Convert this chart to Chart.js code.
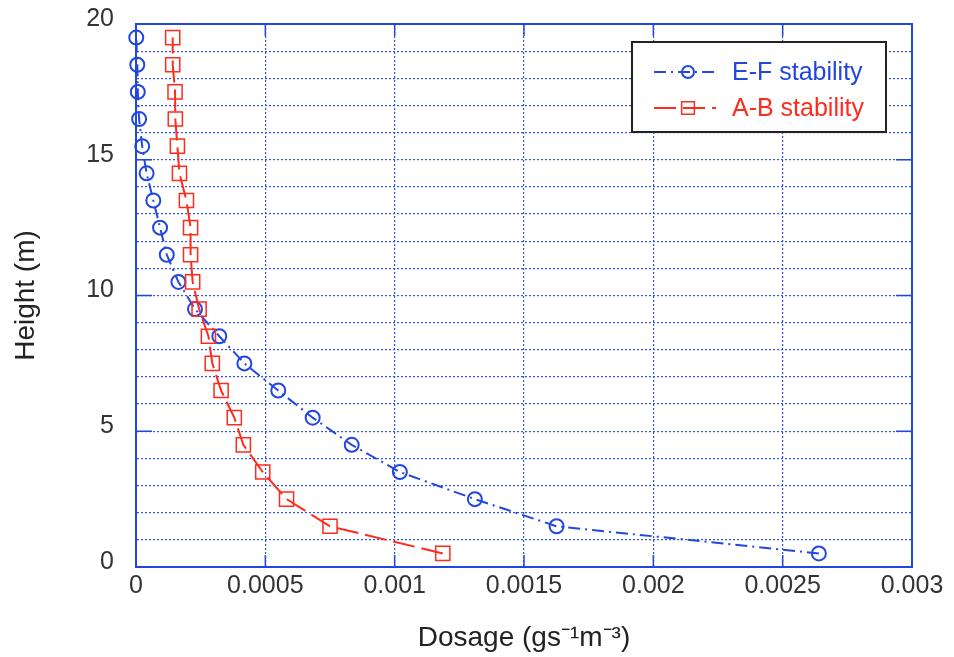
<!DOCTYPE html>
<html>
<head>
<meta charset="utf-8">
<script src="https://cdn.jsdelivr.net/npm/chart.js@4.4.1/dist/chart.umd.min.js"></script>
<style>
    html, body { margin: 0; padding: 0; background: #fff; }
    #wrap { width: 954px; height: 657px; }
</style>
</head>
<body>
<div id="wrap"><canvas id="dosageChart" width="954" height="657"></canvas></div>
<script>
// heights (m), from bottom to top
const heights = [0.5, 1.5, 2.5, 3.5, 4.5, 5.5, 6.5, 7.5, 8.5, 9.5,
                 10.5, 11.5, 12.5, 13.5, 14.5, 15.5, 16.5, 17.5, 18.5, 19.5];

// dosage (g s^-1 m^-3)
const efDosage = [0.00264, 0.001626, 0.00131, 0.00102, 0.000834, 0.000683, 0.00055, 0.000419, 0.000322, 0.000228,
                  0.000164, 0.000119, 0.000093, 0.000067, 0.000041, 0.000024, 0.000012, 0.000007, 0.000005, 0.000001];
const abDosage = [0.001186, 0.00075, 0.000582, 0.00049, 0.000415, 0.00038, 0.000329, 0.000295, 0.00028, 0.000244,
                  0.000219, 0.000211, 0.000211, 0.000195, 0.000168, 0.00016, 0.000152, 0.000151, 0.000142, 0.000142];

const seriesNames = ['E-F stability', 'A-B stability'];

const xTicks = [0, 0.0005, 0.001, 0.0015, 0.002, 0.0025, 0.003];
const xTickLabels = ['0', '0.0005', '0.001', '0.0015', '0.002', '0.0025', '0.003'];
const yTickLabels = ['0', '5', '10', '15', '20'];

const blue = '#2247e0';
const red = '#ff2b1c';
const gridBlue = '#2f52e0';
const textGray = '#333';
const fontFamily = "'Liberation Sans', Arial, sans-serif";

function toPoints(xs) {
    return xs.map((x, i) => ({ x: x, y: heights[i] }));
}

// blue box around the plot, with short inward ticks at the labelled values
const framePlugin = {
    id: 'frame',
    beforeDatasetsDraw(chart) {
        const { ctx, chartArea: a, scales } = chart;
        ctx.save();
        ctx.strokeStyle = blue;
        ctx.lineWidth = 2;
        ctx.setLineDash([]);
        ctx.strokeRect(a.left, a.top, a.right - a.left, a.bottom - a.top);
        ctx.lineWidth = 1.5;
        const len = 12;
        xTicks.forEach(v => {
            const px = scales.x.getPixelForValue(v);
            ctx.beginPath();
            ctx.moveTo(px, a.bottom); ctx.lineTo(px, a.bottom - len);
            ctx.moveTo(px, a.top); ctx.lineTo(px, a.top + len);
            ctx.stroke();
        });
        yTickLabels.forEach(l => {
            const py = scales.y.getPixelForValue(Number(l));
            ctx.beginPath();
            ctx.moveTo(a.left, py); ctx.lineTo(a.left + len + 4, py);
            ctx.moveTo(a.right, py); ctx.lineTo(a.right - len - 4, py);
            ctx.stroke();
        });
        ctx.restore();
    }
};

// boxed legend in the upper right of the plot
const legendPlugin = {
    id: 'boxLegend',
    afterDraw(chart) {
        const { ctx, chartArea: a } = chart;
        const w = 254, h = 90;
        const left = a.right - w - 26;
        const top = a.top + 18;
        ctx.save();
        ctx.fillStyle = '#fff';
        ctx.fillRect(left, top, w, h);
        ctx.strokeStyle = '#222';
        ctx.lineWidth = 2;
        ctx.strokeRect(left, top, w, h);

        const order = [1, 0]; // E-F first, then A-B
        order.forEach((di, row) => {
            const ds = chart.data.datasets[di];
            const y = top + 30 + row * 36;
            ctx.strokeStyle = ds.borderColor;
            ctx.lineWidth = ds.borderWidth;
            ctx.setLineDash(ds.borderDash);
            ctx.beginPath();
            ctx.moveTo(left + 22, y);
            ctx.lineTo(left + 84, y);
            ctx.stroke();
            ctx.setLineDash([]);
            ctx.lineWidth = ds.pointBorderWidth;
            ctx.fillStyle = 'rgba(0,0,0,0)';
            Chart.helpers.drawPoint(ctx, {
                pointStyle: ds.pointStyle,
                radius: ds.pointRadius - 1,
                borderWidth: ds.pointBorderWidth,
                rotation: 0
            }, left + 56, y);
            ctx.fillStyle = ds.borderColor;
            ctx.font = '25px ' + fontFamily;
            ctx.textBaseline = 'middle';
            ctx.textAlign = 'left';
            ctx.fillText(ds.label, left + 100, y + 1);
        });
        ctx.restore();
    }
};

const ctx = document.getElementById('dosageChart').getContext('2d');
new Chart(ctx, {
    type: 'scatter',
    data: {
        datasets: [{
            label: seriesNames[1],
            data: toPoints(abDosage),
            showLine: true,
            borderColor: red,
            backgroundColor: 'rgba(0,0,0,0)',
            borderWidth: 2,
            borderDash: [22, 7],
            pointStyle: 'rect',
            pointRadius: 10,
            pointBorderWidth: 1.5,
            pointBorderColor: red,
            pointBackgroundColor: 'rgba(0,0,0,0)',
            clip: false,
            order: 0
        }, {
            label: seriesNames[0],
            data: toPoints(efDosage),
            showLine: true,
            borderColor: blue,
            backgroundColor: 'rgba(0,0,0,0)',
            borderWidth: 2,
            borderDash: [12, 5, 2, 5],
            pointStyle: 'circle',
            pointRadius: 7,
            pointBorderWidth: 2,
            pointBorderColor: blue,
            pointBackgroundColor: 'rgba(0,0,0,0)',
            clip: false,
            order: 1
        }]
    },
    options: {
        responsive: false,
        animation: false,
        layout: { padding: { left: 0, top: 24, right: 42, bottom: 0 } },
        plugins: {
            legend: { display: false },
            tooltip: { enabled: false }
        },
        scales: {
            x: {
                type: 'linear',
                min: 0,
                max: 0.003,
                afterBuildTicks: s => { s.ticks = xTicks.map(v => ({ value: v })); },
                afterFit: s => { s.height = 90; },
                ticks: {
                    callback: (v, i) => xTickLabels[i],
                    font: { family: fontFamily, size: 25 },
                    color: textGray,
                    padding: 4,
                    maxRotation: 0,
                    autoSkip: false
                },
                grid: { color: gridBlue, lineWidth: 1.2, drawTicks: false },
                border: { display: true, color: blue, width: 2, dash: [2, 2] },
                title: {
                    display: true,
                    text: 'Dosage (gs⁻¹m⁻³)',
                    font: { family: fontFamily, size: 28 },
                    color: '#222',
                    padding: { top: 0, bottom: 2 }
                }
            },
            y: {
                type: 'linear',
                min: 0,
                max: 20,
                afterFit: s => { s.width = 136; },
                ticks: {
                    stepSize: 1,
                    callback: v => (v % 5 === 0 ? yTickLabels[v / 5] : ''),
                    font: { family: fontFamily, size: 25 },
                    color: textGray,
                    padding: 2,
                    labelOffset: -5,
                    autoSkip: false
                },
                grid: {
                    color: gridBlue,
                    lineWidth: 1.2,
                    drawTicks: true,
                    tickLength: 20,
                    tickColor: 'rgba(0,0,0,0)'
                },
                border: { display: true, color: blue, width: 2, dash: [2, 2] },
                title: {
                    display: true,
                    text: 'Height (m)',
                    font: { family: fontFamily, size: 28 },
                    color: '#222',
                    padding: { top: 9, bottom: 0 }
                }
            }
        }
    },
    plugins: [framePlugin, legendPlugin]
});
</script>
</body>
</html>
